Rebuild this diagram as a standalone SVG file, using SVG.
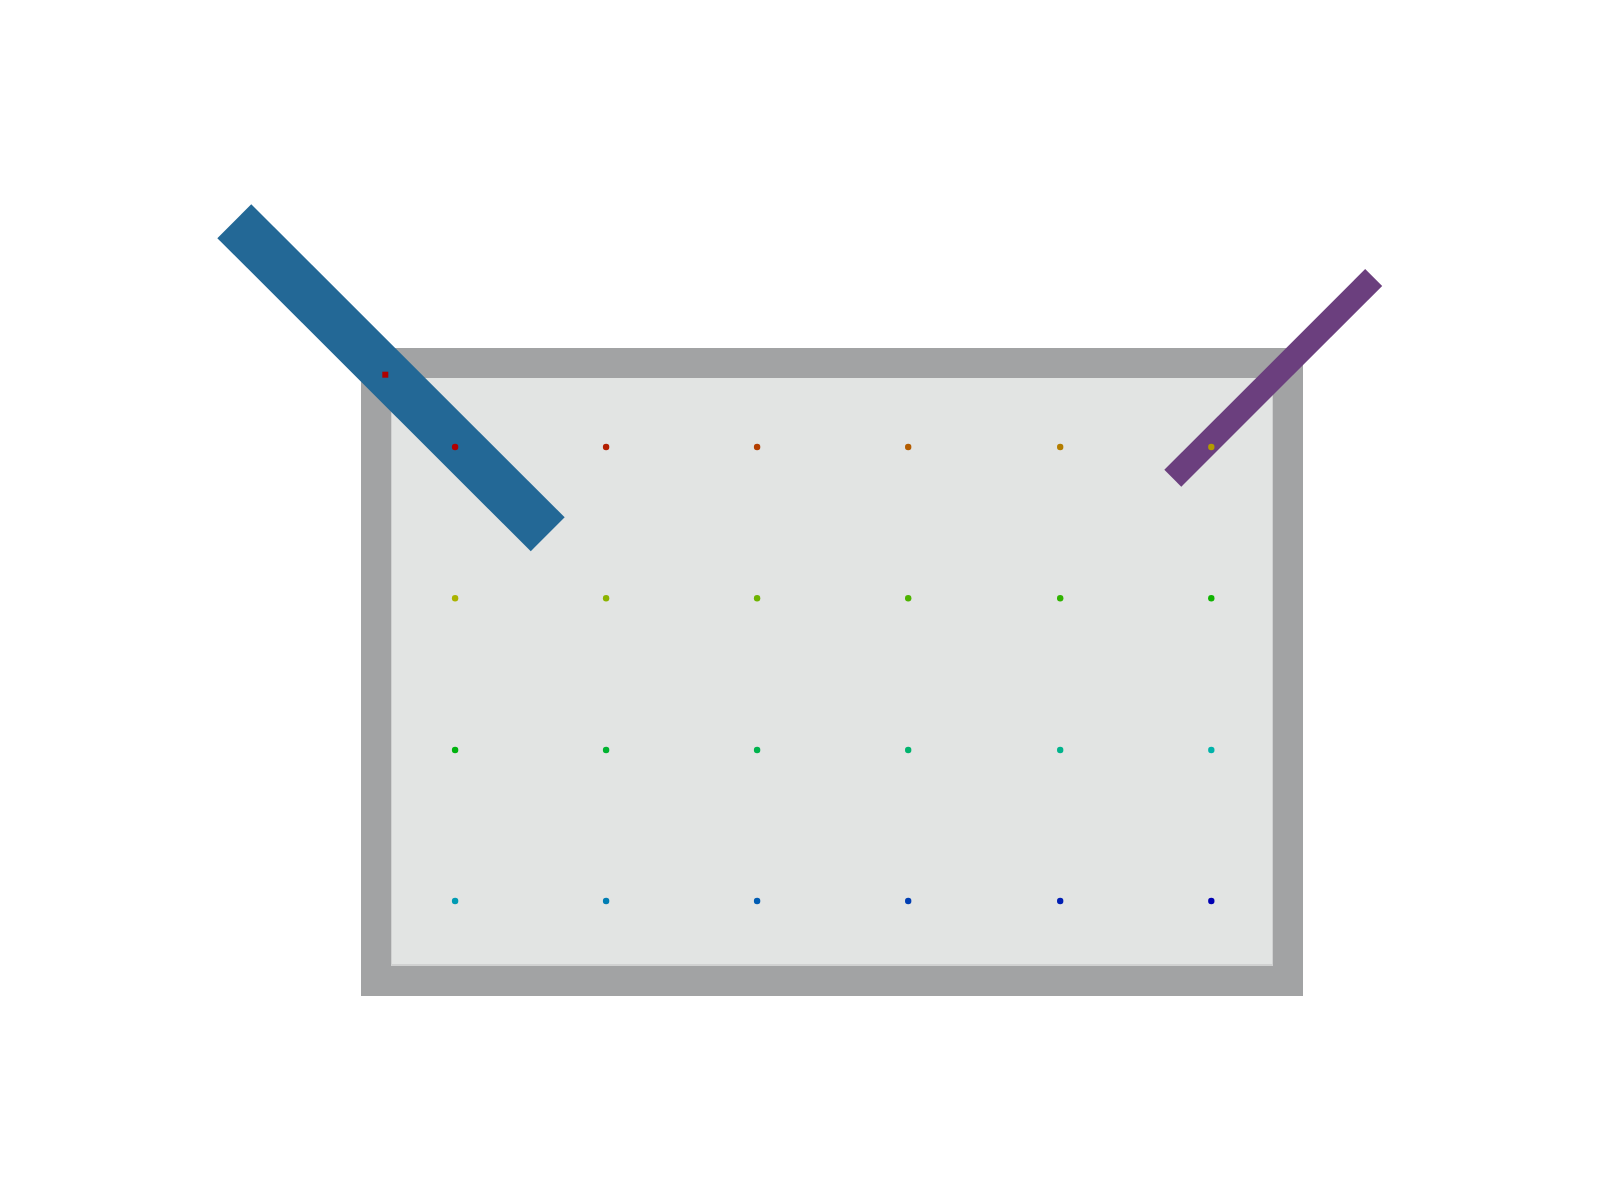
<svg xmlns="http://www.w3.org/2000/svg" width="1600" height="1200" viewBox="0 0 1600 1200">
<style>
.dot{stroke:none}
</style>
<rect width="1600" height="1200" fill="#ffffff"/>
<g id="frame">
<rect x="361" y="348" width="942" height="648" fill="#a2a3a4"/>
<rect x="391" y="378" width="882" height="588" fill="#d0d1d1"/>
<rect x="392" y="378" width="880" height="586" fill="#e2e4e3"/>
</g>
<g id="bars">
<line id="blue-bar" x1="234.3" y1="221.2" x2="547.7" y2="534.3" stroke="#236896" stroke-width="48"/>
<line id="purple-bar" x1="1373.7" y1="277.5" x2="1172.8" y2="478.3" stroke="#6b3f7e" stroke-width="24"/>
</g>
<g id="dots">
<rect x="382.3" y="371.7" width="6" height="6" fill="#b00000"/>
<circle class="dot" cx="455.1" cy="447" r="3.2" fill="hsl(0,100%,35%)"/>
<circle class="dot" cx="606.1" cy="447" r="3.2" fill="hsl(10,100%,35%)"/>
<circle class="dot" cx="757.1" cy="447" r="3.2" fill="hsl(21,100%,35%)"/>
<circle class="dot" cx="908.2" cy="447" r="3.2" fill="hsl(31,100%,35%)"/>
<circle class="dot" cx="1060.2" cy="447" r="3.2" fill="hsl(42,100%,35%)"/>
<circle class="dot" cx="1211.3" cy="447" r="3.2" fill="hsl(52,100%,35%)"/>
<circle class="dot" cx="455.1" cy="598.3" r="3.2" fill="hsl(63,100%,35%)"/>
<circle class="dot" cx="606.1" cy="598.3" r="3.2" fill="hsl(73,100%,35%)"/>
<circle class="dot" cx="757.1" cy="598.3" r="3.2" fill="hsl(83,100%,35%)"/>
<circle class="dot" cx="908.2" cy="598.3" r="3.2" fill="hsl(94,100%,35%)"/>
<circle class="dot" cx="1060.2" cy="598.3" r="3.2" fill="hsl(104,100%,35%)"/>
<circle class="dot" cx="1211.3" cy="598.3" r="3.2" fill="hsl(115,100%,35%)"/>
<circle class="dot" cx="455.1" cy="750" r="3.2" fill="hsl(125,100%,35%)"/>
<circle class="dot" cx="606.1" cy="750" r="3.2" fill="hsl(136,100%,35%)"/>
<circle class="dot" cx="757.1" cy="750" r="3.2" fill="hsl(146,100%,35%)"/>
<circle class="dot" cx="908.2" cy="750" r="3.2" fill="hsl(157,100%,35%)"/>
<circle class="dot" cx="1060.2" cy="750" r="3.2" fill="hsl(167,100%,35%)"/>
<circle class="dot" cx="1211.3" cy="750" r="3.2" fill="hsl(177,100%,35%)"/>
<circle class="dot" cx="455.1" cy="901" r="3.2" fill="hsl(188,100%,35%)"/>
<circle class="dot" cx="606.1" cy="901" r="3.2" fill="hsl(198,100%,35%)"/>
<circle class="dot" cx="757.1" cy="901" r="3.2" fill="hsl(209,100%,35%)"/>
<circle class="dot" cx="908.2" cy="901" r="3.2" fill="hsl(219,100%,35%)"/>
<circle class="dot" cx="1060.2" cy="901" r="3.2" fill="hsl(230,100%,35%)"/>
<circle class="dot" cx="1211.3" cy="901" r="3.2" fill="hsl(240,100%,35%)"/>
</g>
</svg>
